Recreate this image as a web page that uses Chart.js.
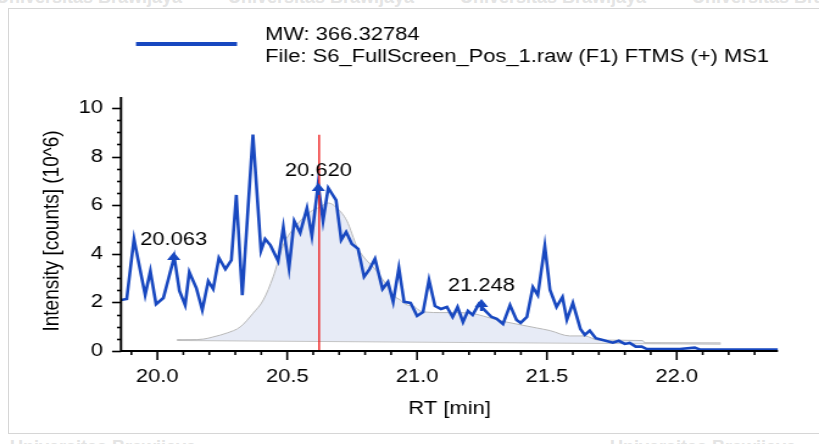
<!DOCTYPE html>
<html>
<head>
<meta charset="utf-8">
<script src="https://cdn.jsdelivr.net/npm/chart.js@4.4.1/dist/chart.umd.min.js"></script>
<style>
    html, body { margin: 0; padding: 0; background: #fff; }
    #page { position: relative; width: 819px; height: 444px; overflow: hidden; background: #fff; }
    #frame { position: absolute; left: 8px; top: 8px; width: 900px; height: 424px; border: 1px solid #d6d6d6; }
    #stretch { position: absolute; left: 0; top: 0; transform-origin: 0 0; }
    .wm { position: absolute; font-family: 'Liberation Sans', Arial, sans-serif; font-size: 18px; font-weight: bold; color: #e4e4e4; white-space: nowrap; }
</style>
</head>
<body>
<div id="page">
    <div class="wm" style="left:-4px; top:-13px;">Universitas Brawijaya</div>
    <div class="wm" style="left:228px; top:-13px;">Universitas Brawijaya</div>
    <div class="wm" style="left:460px; top:-13px;">Universitas Brawijaya</div>
    <div class="wm" style="left:692px; top:-13px;">Universitas Brawijaya</div>
    <div class="wm" style="left:10px; top:437px;">Universitas Brawijaya</div>
    <div class="wm" style="left:610px; top:437px;">Universitas Brawijaya</div>
    <div id="frame"></div>
    <div id="stretch"><canvas id="chart" width="672" height="444"></canvas></div>
</div>
<script>
// the reference screenshot is stretched sideways, so draw narrow and scale up
const S = 819 / 672;
document.getElementById('stretch').style.transform = 'scaleX(' + S + ')';

const rtTime = [
    19.860, 19.882, 19.910, 19.953, 19.973, 19.995, 20.023, 20.065, 20.085, 20.107,
    20.123, 20.150, 20.173, 20.196, 20.215, 20.237, 20.262, 20.285, 20.304, 20.327,
    20.368, 20.399, 20.415, 20.435, 20.465, 20.485, 20.507, 20.527, 20.550, 20.576,
    20.595, 20.619, 20.638, 20.658, 20.688, 20.708, 20.727, 20.749, 20.773, 20.796,
    20.817, 20.838, 20.867, 20.888, 20.908, 20.930, 20.950, 20.975, 21.000, 21.023,
    21.046, 21.069, 21.092, 21.115, 21.137, 21.156, 21.177, 21.196, 21.214, 21.238,
    21.262, 21.287, 21.307, 21.331, 21.358, 21.383, 21.399, 21.423, 21.446, 21.465,
    21.492, 21.512, 21.537, 21.560, 21.577, 21.600, 21.629, 21.646, 21.665, 21.688,
    21.715, 21.754, 21.777, 21.800, 21.819, 21.842, 21.865, 21.885, 21.935, 22.012,
    22.069, 22.088, 22.390
];
const intensity = [
    2.10, 2.14, 4.61, 2.30, 3.29, 1.93, 2.18, 3.87, 2.47, 1.89,
    3.25, 2.59, 1.69, 2.88, 2.55, 3.83, 3.37, 3.74, 6.42, 2.30,
    8.90, 4.12, 4.61, 4.36, 3.70, 5.10, 3.42, 5.35, 4.86, 5.88,
    4.73, 6.87, 5.35, 6.71, 6.21, 4.57, 4.90, 4.40, 4.20, 3.05,
    3.37, 3.79, 2.55, 2.84, 2.02, 3.42, 2.02, 1.98, 1.44, 1.60,
    2.92, 1.85, 1.73, 1.81, 1.40, 1.81, 1.19, 1.65, 1.48, 1.93,
    1.66, 1.40, 1.32, 1.11, 1.89, 1.28, 1.16, 1.40, 2.63, 2.30,
    4.32, 2.51, 1.81, 2.22, 1.28, 1.98, 0.91, 0.66, 0.84, 0.53,
    0.45, 0.34, 0.42, 0.29, 0.33, 0.18, 0.18, 0.08, 0.08, 0.08,
    0.14, 0.06, 0.06
];

// smoothed peak fit (grey area)
const fitTime = [
    20.076, 20.177, 20.215, 20.268, 20.319, 20.369, 20.408, 20.446, 20.485, 20.537,
    20.588, 20.627, 20.658, 20.692, 20.730, 20.769, 20.808, 20.831, 20.877, 20.908,
    20.935, 20.962, 20.985, 21.012, 21.038, 21.088, 21.138, 21.204, 21.254, 21.319,
    21.383, 21.460, 21.512, 21.588, 21.646, 21.696, 21.869, 21.877, 22.169
];
const fitIntensity = [
    0.45, 0.49, 0.58, 0.74, 0.99, 1.56, 2.10, 3.05, 4.36, 5.19,
    5.72, 5.93, 6.09, 5.88, 5.35, 4.28, 3.70, 3.46, 2.80, 2.30,
    2.10, 1.89, 1.85, 1.65, 1.60, 1.58, 1.58, 1.56, 1.44, 1.25,
    1.11, 0.95, 0.84, 0.62, 0.62, 0.45, 0.43, 0.33, 0.33
];
const baseTime = [20.076, 22.169];
const baseIntensity = [0.45, 0.30];

const peakTime = [20.063, 20.620, 21.248];
const peakTip = [4.07, 6.91, 2.14];
const peakLabels = ['20.063', '20.620', '21.248'];

const markerTime = 20.623;
const markerTop = 8.9;

const xTickValues = [20.0, 20.5, 21.0, 21.5, 22.0];
const yTickValues = [0, 2, 4, 6, 8, 10];

const legendLines = ['MW: 366.32784', 'File: S6_FullScreen_Pos_1.raw (F1) FTMS (+) MS1'];
const yTitle = 'Intensity [counts] (10^6)';

const blue = '#1848c0';
const fontFamily = "'Liberation Sans', Arial, sans-serif";

function toPoints(xs, ys) {
    return xs.map((v, i) => ({ x: v, y: ys[i] }));
}

const overlay = {
    id: 'overlay',
    afterDatasetsDraw(chart) {
        const { ctx, scales: { x, y } } = chart;
        ctx.save();

        // red retention time marker
        ctx.strokeStyle = '#ee2222';
        ctx.lineWidth = 1.4;
        ctx.beginPath();
        ctx.moveTo(x.getPixelForValue(markerTime), y.getPixelForValue(markerTop));
        ctx.lineTo(x.getPixelForValue(markerTime), y.getPixelForValue(0));
        ctx.stroke();

        // peak arrows and labels
        ctx.font = '18px ' + fontFamily;
        ctx.textAlign = 'center';
        ctx.textBaseline = 'middle';
        peakTime.forEach((t, i) => {
            const px = x.getPixelForValue(t);
            const py = y.getPixelForValue(peakTip[i]);
            ctx.fillStyle = blue;
            ctx.beginPath();
            ctx.moveTo(px, py);
            ctx.lineTo(px - 5.5, py + 8);
            ctx.lineTo(px + 5.5, py + 8);
            ctx.closePath();
            ctx.fill();
            ctx.fillRect(px - 1.2, py + 6, 2.4, 6);
            ctx.fillStyle = '#000';
            ctx.fillText(peakLabels[i], px, py - 12.5);
        });
        ctx.restore();
    },
    afterDraw(chart) {
        const { ctx, chartArea, scales: { x, y } } = chart;
        ctx.save();
        ctx.strokeStyle = '#000';

        // axis lines
        ctx.lineWidth = 2;
        ctx.beginPath();
        ctx.moveTo(chartArea.left, chartArea.top);
        ctx.lineTo(chartArea.left, chartArea.bottom);
        ctx.lineTo(chartArea.right, chartArea.bottom);
        ctx.stroke();

        // y ticks every 0.5, long ones at the labels
        ctx.lineWidth = 1.6;
        for (let v = 0; v <= 10.001; v += 0.5) {
            const py = Math.round(y.getPixelForValue(v)) + 0.5;
            const len = Math.abs(v % 2) < 0.01 ? 9 / S : 4 / S;
            ctx.beginPath();
            ctx.moveTo(chartArea.left - len, py);
            ctx.lineTo(chartArea.left, py);
            ctx.stroke();
        }
        // x ticks every 0.1 min
        for (let t = 19.9; t <= 22.39; t += 0.1) {
            const px = x.getPixelForValue(t);
            const major = Math.abs(t * 2 - Math.round(t * 2)) < 0.01;
            ctx.beginPath();
            ctx.moveTo(px, chartArea.bottom);
            ctx.lineTo(px, chartArea.bottom + (major ? 9 : 4));
            ctx.stroke();
        }

        // y axis title, sits a little below the middle of the axis
        ctx.fillStyle = '#000';
        ctx.font = '19px ' + fontFamily;
        ctx.textAlign = 'center';
        ctx.textBaseline = 'middle';
        ctx.translate(52 / S, 231);
        ctx.rotate(-Math.PI / 2);
        ctx.fillText(yTitle, 0, 0);
        ctx.setTransform(1, 0, 0, 1, 0, 0);

        // legend
        ctx.strokeStyle = blue;
        ctx.lineWidth = 4;
        ctx.beginPath();
        ctx.moveTo(136 / S, 44);
        ctx.lineTo(237 / S, 44);
        ctx.stroke();
        ctx.font = '18px ' + fontFamily;
        ctx.textAlign = 'left';
        ctx.fillText(legendLines[0], 265 / S, 35);
        ctx.fillText(legendLines[1], 265 / S, 57);
        ctx.restore();
    }
};

new Chart(document.getElementById('chart'), {
    type: 'line',
    data: {
        datasets: [
            {
                label: 'MW: 366.32784',
                data: toPoints(rtTime, intensity),
                borderColor: blue,
                borderWidth: 2.6,
                pointRadius: 0,
                tension: 0,
                fill: false
            },
            {
                label: 'fit',
                data: toPoints(fitTime, fitIntensity),
                borderColor: '#b8b8b8',
                borderWidth: 1,
                backgroundColor: '#e7ebf6',
                pointRadius: 0,
                cubicInterpolationMode: 'monotone',
                fill: '+1'
            },
            {
                label: 'baseline',
                data: toPoints(baseTime, baseIntensity),
                borderColor: '#c4c4c4',
                borderWidth: 2,
                pointRadius: 0,
                fill: false
            }
        ]
    },
    options: {
        responsive: false,
        animation: false,
        layout: {
            padding: { left: 0, right: 672 - 778 / S, top: 97, bottom: 0 }
        },
        plugins: {
            legend: { display: false },
            tooltip: { enabled: false }
        },
        scales: {
            x: {
                type: 'linear',
                min: 19.86,
                max: 22.39,
                grid: { display: false, drawTicks: false },
                border: { display: false },
                afterBuildTicks: scale => {
                    scale.ticks = xTickValues.map(v => ({ value: v }));
                },
                afterFit: scale => {
                    scale.height = 444 - 351;
                },
                ticks: {
                    color: '#000',
                    padding: 15,
                    maxRotation: 0,
                    autoSkip: false,
                    font: { size: 18, family: fontFamily },
                    callback: v => v.toFixed(1)
                },
                title: {
                    display: true,
                    text: 'RT [min]',
                    color: '#000',
                    font: { size: 18, family: fontFamily },
                    padding: { top: 0, bottom: 24 }
                }
            },
            y: {
                min: 0,
                max: 10.45,
                grid: { display: false, drawTicks: false },
                border: { display: false },
                afterBuildTicks: scale => {
                    scale.ticks = yTickValues.map(v => ({ value: v }));
                },
                afterFit: scale => {
                    scale.width = 121 / S;
                },
                ticks: {
                    color: '#000',
                    padding: 18 / S,
                    font: { size: 18, family: fontFamily }
                }
            }
        }
    },
    plugins: [overlay]
});
</script>
</body>
</html>
